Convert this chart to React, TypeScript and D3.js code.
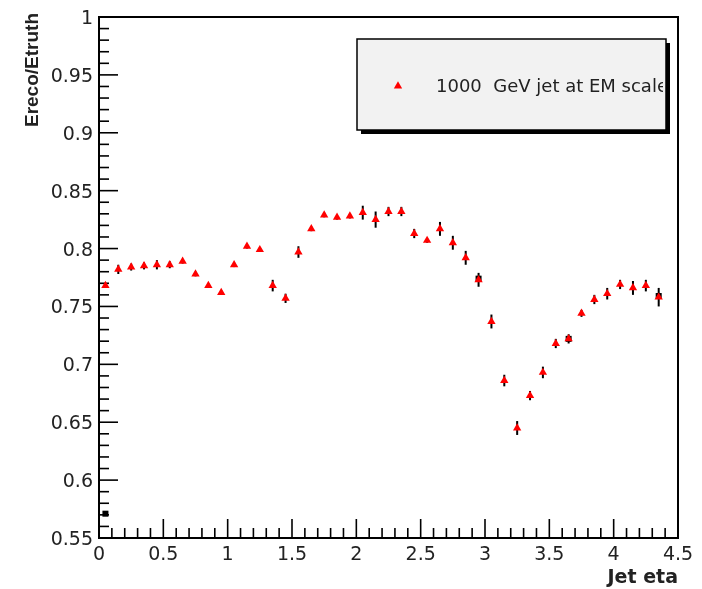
import React from 'react';
import * as d3 from 'd3';

// bin centres in jet eta
const etaBins = [
  0.05, 0.15, 0.25, 0.35, 0.45, 0.55, 0.65, 0.75, 0.85, 0.95,
  1.05, 1.15, 1.25, 1.35, 1.45, 1.55, 1.65, 1.75, 1.85, 1.95,
  2.05, 2.15, 2.25, 2.35, 2.45, 2.55, 2.65, 2.75, 2.85, 2.95,
  3.05, 3.15, 3.25, 3.35, 3.45, 3.55, 3.65, 3.75, 3.85, 3.95,
  4.05, 4.15, 4.25, 4.35,
];
const response = [
  0.768, 0.782, 0.784, 0.785, 0.786, 0.786, 0.789, 0.778, 0.768, 0.762,
  0.786, 0.802, 0.799, 0.768, 0.757, 0.797, 0.817, 0.829, 0.827, 0.828,
  0.831, 0.825, 0.832, 0.832, 0.813, 0.807, 0.817, 0.805, 0.792, 0.773,
  0.737, 0.686, 0.645, 0.673, 0.693, 0.718, 0.722, 0.744, 0.756, 0.761,
  0.769, 0.766, 0.768, 0.758,
];
const errors = [
  0.002, 0.004, 0.003, 0.003, 0.004, 0.003, 0.002, 0.002, 0.002, 0.002,
  0.002, 0.002, 0.002, 0.005, 0.004, 0.005, 0.002, 0.002, 0.002, 0.002,
  0.006, 0.007, 0.004, 0.004, 0.004, 0.002, 0.006, 0.006, 0.006, 0.006,
  0.006, 0.005, 0.006, 0.004, 0.005, 0.004, 0.004, 0.003, 0.004, 0.005,
  0.004, 0.006, 0.005, 0.008,
];
// black reference points peeking from behind
const blackEta = [0.05, 2.95, 3.65, 4.35];
const blackVal = [0.571, 0.774, 0.722, 0.759];

const yTicks = [0.55, 0.6, 0.65, 0.7, 0.75, 0.8, 0.85, 0.9, 0.95, 1];
const xTicks = [0, 0.5, 1, 1.5, 2, 2.5, 3, 3.5, 4, 4.5];
const legendLabel = '1000  GeV jet at EM scale';

const W = 702, H = 589;
const left = 99, right = 678, top = 17, bottom = 538;
const font = '"DejaVu Sans", sans-serif';
const boldFont = '"Liberation Sans", Arial, sans-serif';

export default function App() {
  const x = d3.scaleLinear().domain([0, 4.5]).range([left, right]);
  const y = d3.scaleLinear().domain([0.55, 1]).range([bottom, top]);
  const tri = d3.symbol(d3.symbolTriangle, 30)()!;

  const yMinor = d3.range(0.55, 1.0001, 0.01).map(v => +v.toFixed(2));
  const xMinor = d3.range(0, 4.5001, 0.1).map(v => +v.toFixed(1));

  return (
    <svg width={W} height={H} style={{ position: 'absolute', left: 0, top: 0, background: '#fff' }}>
      <defs>
        <filter id="soft"><feGaussianBlur stdDeviation="0.5" /></filter>
        <clipPath id="legclip"><rect x={358} y={40} width={305} height={89} /></clipPath>
      </defs>

      <g filter="url(#soft)">
        {/* frame */}
        <rect x={left} y={top} width={right - left} height={bottom - top} fill="none" stroke="#000" strokeWidth={2} />

        {/* ticks */}
        {yMinor.map((v, i) => (
          <line key={'ym' + i} x1={left} x2={left + (i % 5 === 0 ? 19 : 10)} y1={y(v)} y2={y(v)} stroke="#000" strokeWidth={1.6} />
        ))}
        {xMinor.map((v, i) => (
          <line key={'xm' + i} y1={bottom} y2={bottom - (i % 5 === 0 ? 19 : 10)} x1={x(v)} x2={x(v)} stroke="#000" strokeWidth={1.6} />
        ))}

        {yTicks.map(v => (
          <text key={'yt' + v} x={93} y={y(v) + 7} textAnchor="end" fontFamily={font} fontSize={19} fill="#222">
            {d3.format('~g')(v)}
          </text>
        ))}
        {xTicks.map(v => (
          <text key={'xt' + v} x={x(v)} y={560} textAnchor="middle" fontFamily={font} fontSize={19} fill="#222">
            {d3.format('~g')(v)}
          </text>
        ))}

        <text x={678} y={583} textAnchor="end" fontFamily={'"DejaVu Sans", sans-serif'} fontSize={19} fontWeight="bold" fill="#222">Jet eta</text>
        <text transform="translate(38,13) rotate(-90)" textAnchor="end" fontFamily={boldFont} fontSize={19} fontWeight="bold" fill="#222">
          Ereco/Etruth
        </text>

        {/* legend */}
        <rect x={361} y={43} width={309} height={91} fill="#000" />
        <rect x={357} y={39} width={309} height={91} fill="#f2f2f2" stroke="#000" strokeWidth={1.5} />
        <path d={tri} transform="translate(398,86)" fill="#ff0000" />
        <g clipPath="url(#legclip)">
          <text x={436} y={92} fontFamily={font} fontSize={18} fill="#222" style={{ whiteSpace: 'pre' }}>{legendLabel}</text>
        </g>

        {/* black points */}
        {blackEta.map((e, i) => (
          <rect key={'b' + i} x={x(e) - 3} y={y(blackVal[i]) - 3} width={6} height={6} fill="#000" />
        ))}

        {/* error bars */}
        {etaBins.map((e, i) => (
          <line key={'e' + i} x1={x(e)} x2={x(e)} y1={y(response[i] - errors[i])} y2={y(response[i] + errors[i])} stroke="#000" strokeWidth={2} />
        ))}

        {/* markers */}
        {etaBins.map((e, i) => (
          <path key={'p' + i} d={tri} transform={`translate(${x(e)},${y(response[i])})`} fill="#ff0000" />
        ))}
      </g>
    </svg>
  );
}
